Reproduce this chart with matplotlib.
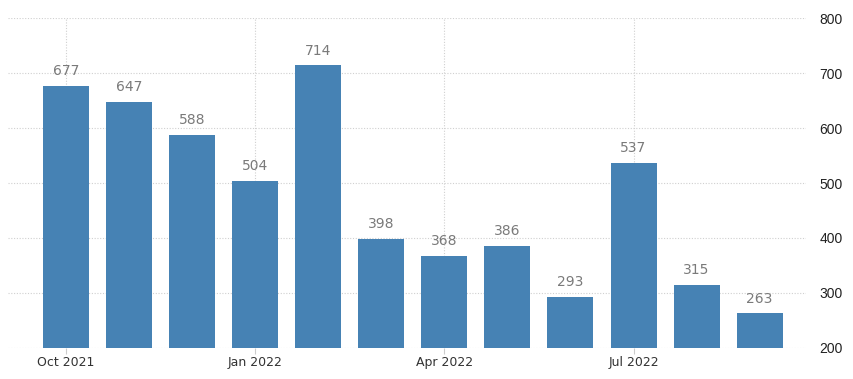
import matplotlib
matplotlib.use("Agg")
import matplotlib.pyplot as plt

months = ["Oct 2021", "Nov 2021", "Dec 2021", "Jan 2022", "Feb 2022", "Mar 2022",
          "Apr 2022", "May 2022", "Jun 2022", "Jul 2022", "Aug 2022", "Sep 2022"]
values = [677, 647, 588, 504, 714, 398, 368, 386, 293, 537, 315, 263]
tick_idx = [0, 3, 6, 9]
tick_labels = ["Oct 2021", "Jan 2022", "Apr 2022", "Jul 2022"]
yticks = [200, 300, 400, 500, 600, 700, 800]

fig = plt.figure(figsize=(8.54, 3.79), dpi=100)
ax = fig.add_axes([0.0094, 0.0818, 0.934, 0.8707])
x = list(range(len(values)))
ax.bar(x, [v - 200 for v in values], bottom=200, width=0.73, color="#4682b4", zorder=3)
for xi, v in zip(x, values):
    ax.text(xi, v + 14, str(v), ha="center", va="bottom", fontsize=10,
            color="#7a7a7a", family="DejaVu Sans", zorder=4)

ax.set_ylim(200, 800)
ax.set_xlim(-0.92, 11.73)
ax.set_yticks(yticks)
ax.set_xticks(tick_idx)
ax.set_xticklabels(tick_labels, fontsize=9, color="#333333", family="DejaVu Sans")
ax.yaxis.tick_right()
for lab in ax.get_yticklabels():
    lab.set_fontsize(10)
    lab.set_color("#222222")
    lab.set_family("Liberation Sans")
ax.tick_params(axis="y", length=0, pad=10)
ax.tick_params(axis="x", length=4, color="#cccccc", pad=2)
ax.grid(True, axis="both", linestyle=(0, (1, 1.5)), color="#d0d0d0", linewidth=0.8, zorder=0)
for s in ax.spines.values():
    s.set_visible(False)
fig.savefig("out.png", dpi=100)
